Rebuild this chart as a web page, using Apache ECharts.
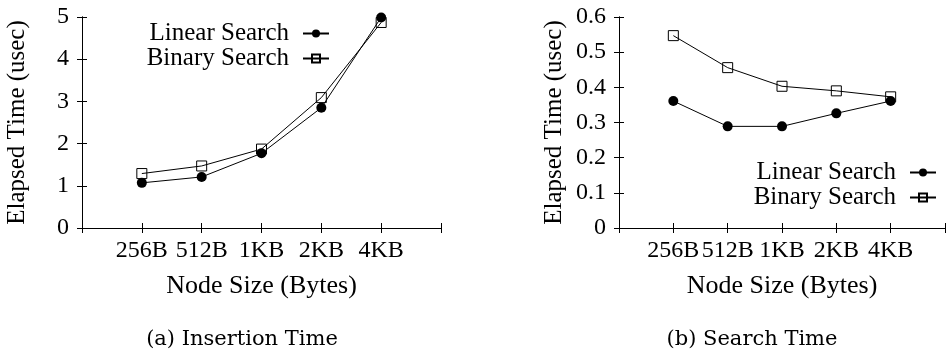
<!DOCTYPE html>
<html>
<head>
<meta charset="utf-8">
<title></title>
<script src="https://cdn.jsdelivr.net/npm/echarts@6/dist/echarts.min.js"></script>
<style>
	html, body { margin: 0; padding: 0; background: #fff; }
	#main { width: 948px; height: 351px; }
</style>
</head>
<body>
<div id="main"></div>
<script type="text/javascript">
	// node sizes on the x axis (placed at 1..5 on a 0..6 scale)
	var nodeSizes = ['256B', '512B', '1KB', '2KB', '4KB'];

	// (a) insertion time, usec
	var insertLinear = [1.07, 1.21, 1.77, 2.85, 4.99];
	var insertBinary = [1.29, 1.47, 1.87, 3.09, 4.87];

	// (b) search time, usec
	var searchLinear = [0.361, 0.289, 0.289, 0.326, 0.361];
	var searchBinary = [0.547, 0.456, 0.403, 0.390, 0.373];

	var serif = 'Liberation Serif';

	function toPoints(vals){
		var out = [];
		for (var i = 0; i < vals.length; i++) {
			out.push([i + 1, vals[i]]);
		}
		return out;
	}

	function sizeLabel(v){
		return nodeSizes[v - 1] || '';
	}

	function xAxisPair(gi){
		return [{
			gridIndex: gi, type: 'value', min: 0, max: 6, interval: 1,
			name: 'Node Size (Bytes)', nameLocation: 'middle', nameGap: 45,
			nameTextStyle: { fontFamily: serif, fontSize: 26, color: '#000' },
			axisLine: { lineStyle: { color: '#000', width: 1 } },
			axisTick: { inside: true, length: 5, lineStyle: { color: '#000' } },
			axisLabel: { formatter: sizeLabel, fontFamily: serif, fontSize: 24, color: '#000', margin: 11 },
			splitLine: { show: false }
		}, {
			gridIndex: gi, type: 'value', min: 0, max: 6, interval: 1, position: 'top',
			axisLine: { lineStyle: { color: '#000', width: 1 } },
			axisTick: { inside: true, length: 5, lineStyle: { color: '#000' } },
			axisLabel: { show: false },
			splitLine: { show: false }
		}];
	}

	function yAxisPair(gi, max, step, digits){
		return [{
			gridIndex: gi, type: 'value', min: 0, max: max, interval: step,
			name: 'Elapsed Time (usec)', nameLocation: 'middle', nameGap: 52, nameRotate: 90,
			nameTextStyle: { fontFamily: serif, fontSize: 25, color: '#000' },
			axisLine: { show: true, lineStyle: { color: '#000', width: 1 } },
			axisTick: { show: true, inside: true, length: 5, lineStyle: { color: '#000' } },
			axisLabel: {
				fontFamily: serif, fontSize: 24, color: '#000', margin: 13,
				formatter: function (v) { return (digits && v !== 0) ? v.toFixed(digits) : String(v); }
			},
			splitLine: { show: false }
		}, {
			gridIndex: gi, type: 'value', min: 0, max: max, interval: step, position: 'right',
			axisLine: { show: true, lineStyle: { color: '#000', width: 1 } },
			axisTick: { show: true, inside: true, length: 5, lineStyle: { color: '#000' } },
			axisLabel: { show: false },
			splitLine: { show: false }
		}];
	}

	function lineSeries(name, xi, yi, vals, filled){
		return {
			name: name, type: 'line', xAxisIndex: xi, yAxisIndex: yi,
			data: toPoints(vals),
			z: filled ? 3 : 2,
			symbol: filled ? 'circle' : 'rect',
			symbolSize: 10,
			lineStyle: { color: '#000', width: 1 },
			itemStyle: filled ? { color: '#000' } : { color: 'rgba(255,255,255,0)', borderColor: '#000', borderWidth: 1 },
			animation: false
		};
	}

	function legendAt(right, top){
		return {
			orient: 'vertical', align: 'right', right: right, top: top,
			padding: 0, itemGap: 0, itemWidth: 26, itemHeight: 10,
			selectedMode: false,
			data: ['Linear Search', 'Binary Search'],
			textStyle: { fontFamily: serif, fontSize: 25, color: '#000', lineHeight: 23, padding: [0, 9, 0, 0] }
		};
	}

	var chart = echarts.init(document.getElementById('main'));
	var xa = xAxisPair(0).concat(xAxisPair(1));
	var ya = yAxisPair(0, 5, 1, 0).concat(yAxisPair(1, 0.6, 0.1, 1));

	chart.setOption({
		animation: false,
		grid: [
			{ left: 82, top: 17, width: 359, height: 211 },
			{ left: 619, top: 17, width: 332, height: 211 }
		],
		xAxis: xa,
		yAxis: ya,
		legend: [legendAt(618, 21), legendAt(11, 160)],
		series: [
			lineSeries('Binary Search', 0, 0, insertBinary, false),
			lineSeries('Linear Search', 0, 0, insertLinear, true),
			lineSeries('Binary Search', 2, 2, searchBinary, false),
			lineSeries('Linear Search', 2, 2, searchLinear, true)
		],
		graphic: [
			{ type: 'text', x: 242, y: 340, style: { text: '(a) Insertion Time', fontFamily: 'DejaVu Serif', fontSize: 21, fill: '#000', textAlign: 'center', textVerticalAlign: 'middle' } },
			{ type: 'text', x: 752, y: 340, style: { text: '(b) Search Time', fontFamily: 'DejaVu Serif', fontSize: 21, fill: '#000', textAlign: 'center', textVerticalAlign: 'middle' } }
		]
	});
</script>
</body>
</html>
